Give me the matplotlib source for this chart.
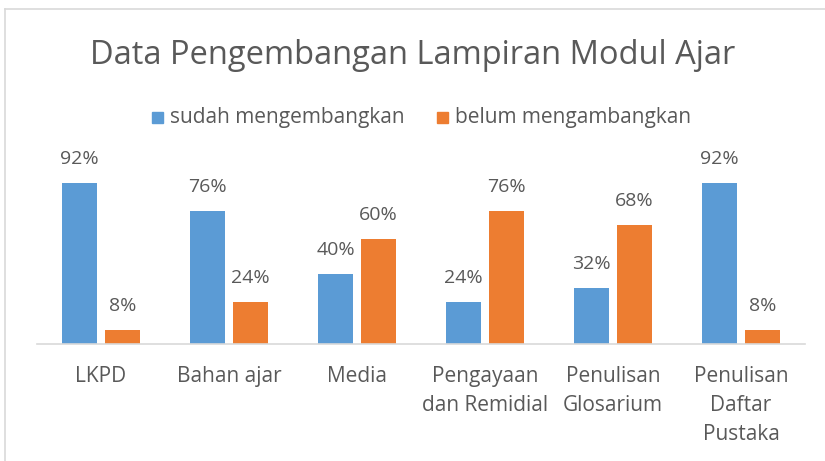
import matplotlib
matplotlib.use("Agg")
import matplotlib.pyplot as plt
from matplotlib.lines import Line2D
from matplotlib.patches import Rectangle
import numpy as np

categories = ["LKPD", "Bahan ajar", "Media", "Pengayaan\ndan Remidial",
              "Penulisan\nGlosarium", "Penulisan\nDaftar\nPustaka"]
sudah = [92, 76, 40, 24, 32, 92]
belum = [8, 24, 60, 76, 68, 8]
series_names = ["sudah mengembangkan", "belum mengambangkan"]

blue = "#5B9BD5"
orange = "#ED7D31"
txt = "#595959"

plt.rcParams['font.family'] = ['Open Sans', 'DejaVu Sans']

W, H = 825, 461
fig = plt.figure(figsize=(W / 100, H / 100), dpi=100)

# chart border (cropped on right/bottom)
fig.add_artist(Line2D([5 / W, 1], [1 - 9 / H, 1 - 9 / H], color="#D9D9D9", lw=1.2))
fig.add_artist(Line2D([5 / W, 5 / W], [0, 1 - 9 / H], color="#D9D9D9", lw=1.2))

ax = fig.add_axes([37 / W, 117 / H, 768 / W, 175 / H])
x = np.arange(len(categories))
w = 0.273
off = 0.168
ax.bar(x - off, sudah, w, color=blue)
ax.bar(x + off, belum, w, color=orange)
ax.set_xlim(-0.5, len(categories) - 0.5)
ax.set_ylim(0, 100)

for i in range(len(categories)):
    ax.text(x[i] - off, sudah[i] + 8.5, f"{sudah[i]}%", ha="center", va="bottom",
            fontsize=14, color=txt)
    ax.text(x[i] + off, belum[i] + 8.5, f"{belum[i]}%", ha="center", va="bottom",
            fontsize=14, color=txt)

for s in ["top", "right", "left"]:
    ax.spines[s].set_visible(False)
ax.spines["bottom"].set_color("#D9D9D9")
ax.spines["bottom"].set_linewidth(1.2)
ax.set_yticks([])
ax.set_xticks(x)
ax.set_xticklabels(categories, fontsize=15, color=txt, linespacing=1.5)
ax.tick_params(axis="x", length=0, pad=16)

fig.text(0.5, 1 - 56 / H, "Data Pengembangan Lampiran Modul Ajar", ha="center",
         va="center", fontsize=23.5, color=txt)

# legend
ly = 1 - 117 / H
fig.add_artist(Rectangle((152 / W, ly - 6 / H), 11 / W, 11 / H, color=blue))
fig.text(170 / W, ly, series_names[0], va="center", fontsize=15, color=txt)
fig.add_artist(Rectangle((437 / W, ly - 6 / H), 11 / W, 11 / H, color=orange))
fig.text(455 / W, ly, series_names[1], va="center", fontsize=15, color=txt)

fig.savefig("out.png", dpi=100)
